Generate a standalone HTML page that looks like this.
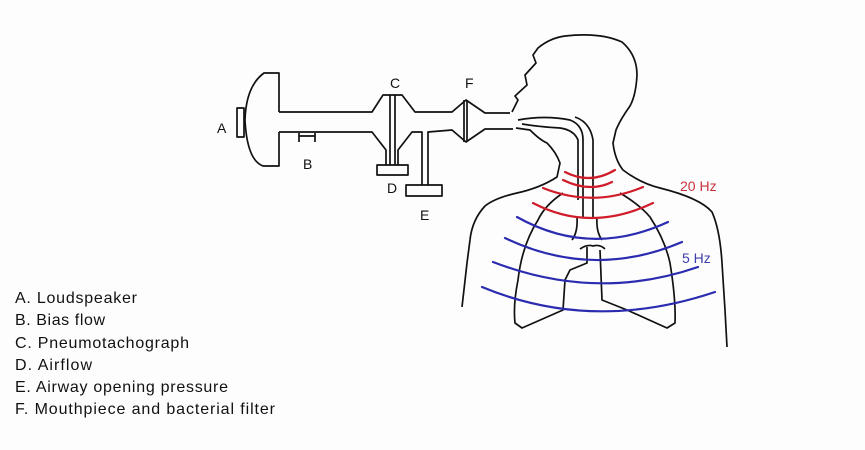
<!DOCTYPE html>
<html><head><meta charset="utf-8"><style>
html,body{margin:0;padding:0;background:#fff;}
svg{display:block;}
text{font-family:"Liberation Sans",sans-serif;}
</style></head><body>
<svg width="865" height="450" viewBox="0 0 865 450" xmlns="http://www.w3.org/2000/svg">
<rect width="865" height="450" fill="#fdfdfd"/>
<g fill="none" stroke="#111" stroke-width="1.7" stroke-linejoin="round">
<rect x="237" y="108" width="7" height="29"/>
<path d="M279,112 L279,73 L264,73 Q246,86 245,120 Q247,160 263,166 L279,166 L279,132"/>
<path d="M279,112 L372,112 L383,95 L402,95 L415,112 L452,112 L466,100 L485,113 L510,113"/>
<path d="M279,132 L372,132 L386,150 L386,165"/>
<path d="M398,165 L398,150 L412,132 L422,132 L422,185"/>
<path d="M428,185 L428,132 L452,130 L466,142 L485,129 L513,129"/>
<path d="M390,95 L390,165 M395,95 L395,165"/>
<rect x="377" y="165" width="31" height="10"/>
<rect x="406" y="185" width="36" height="11"/>
<path d="M464,100 L464,142 M467,100 L467,142"/>
<path d="M299,136 L315,136 M299,133 L299,142 M315,133 L315,142"/>
<path d="M512,112 L518,100 L515,96 L527,85 L525,75 L536,63 L533,55 L538,48 Q550,38 565,36 Q600,32 622,42 Q637,55 637,75 Q636,95 630,106 Q620,120 616,130 L613,143 Q615,160 623,170 Q640,183 660,188 Q700,198 712,212 Q720,230 722,263 L725,310 L727,347"/>
<path d="M516,128 L530,130 Q540,140 547,143 Q556,152 560,163 L557,177 Q540,188 517,193 Q495,198 485,206 Q472,220 470,240 L467,263 L462,307"/>
<path d="M518,120 Q545,115 570,120 Q583,125 583,140 L583,217"/>
<path d="M522,124 Q540,127 560,128 Q574,130 578,140 L578,200"/>
<path d="M593,217 L593,140 Q590,122 575,117"/>
<path d="M563,193 Q545,205 538,220 Q522,245 518,280 Q513,305 515,323 L522,328 L563,310 L565,280 L570,270 L587,263 L587,247"/>
<path d="M620,193 Q640,205 650,217 Q665,240 670,263 Q676,300 675,323 L667,328 L627,310 L602,300 L600,250"/>
<path d="M577,217 Q578,232 572,240 M597,217 Q596,232 602,240"/>
<path d="M580,249 Q587,244 593,246 Q600,244 605,249"/>
</g>
<g fill="none" stroke="#d01c2a" stroke-width="2.2" stroke-linecap="round">
<path d="M565,172 Q590,185 615,170"/>
<path d="M563,180 Q590,193 612,182"/>
<path d="M543,188 Q593,208 643,187"/>
<path d="M533,203 Q590,233 653,203"/>
</g>
<g fill="none" stroke="#2b2bb0" stroke-width="2.2" stroke-linecap="round">
<path d="M517,217 Q590,258 668,222"/>
<path d="M505,238 Q593,280 682,242"/>
<path d="M493,262 Q597,302 698,267"/>
<path d="M482,287 Q593,333 715,292"/>
</g>
<g font-size="14" fill="#111">
<text x="217" y="133">A</text>
<text x="303" y="169">B</text>
<text x="390" y="88">C</text>
<text x="387" y="193">D</text>
<text x="420" y="220">E</text>
<text x="465" y="88">F</text>
</g>
<text x="680" y="191" font-size="14" fill="#c8323c">20 Hz</text>
<text x="682" y="263" font-size="14" fill="#3e3eaa">5 Hz</text>
<g font-size="16" fill="#111">
<text x="15" y="303" textLength="122">A. Loudspeaker</text>
<text x="15" y="325" textLength="90">B. Bias flow</text>
<text x="15" y="348" textLength="174">C. Pneumotachograph</text>
<text x="15" y="370" textLength="77">D. Airflow</text>
<text x="15" y="392" textLength="213">E. Airway opening pressure</text>
<text x="15" y="414" textLength="260">F. Mouthpiece and bacterial filter</text>
</g>
</svg>
</body></html>
